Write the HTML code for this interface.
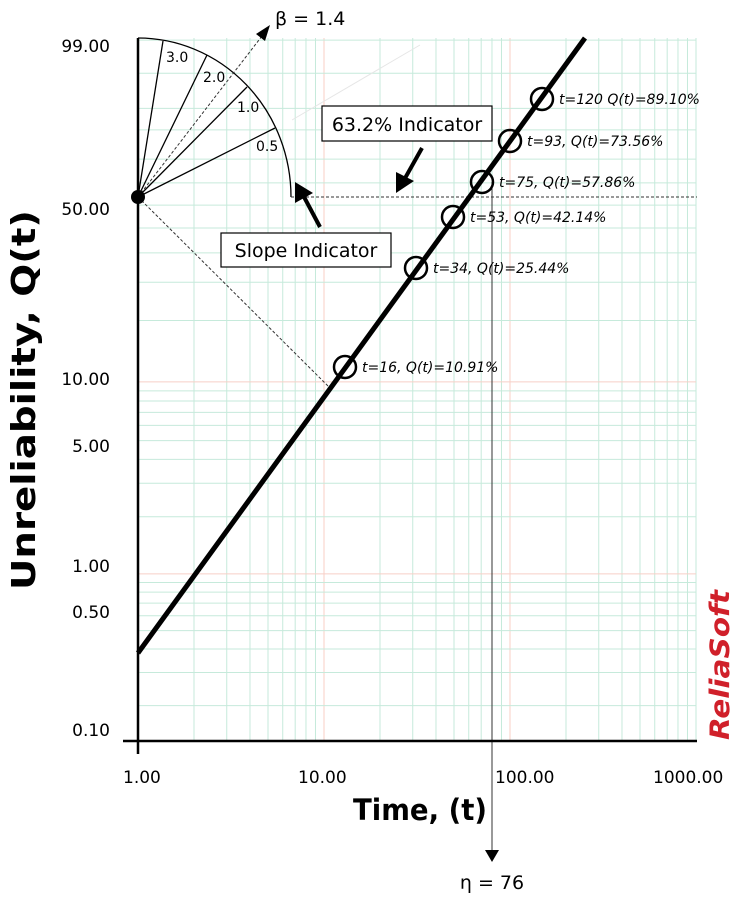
<!DOCTYPE html>
<html><head><meta charset="utf-8"><style>
html,body{margin:0;padding:0;background:#fff;}
svg{display:block;font-family:"DejaVu Sans","Liberation Sans",sans-serif;}
</style></head><body>
<svg id="s" width="735" height="899" viewBox="0 0 735 899" xmlns="http://www.w3.org/2000/svg">
<g id="grid"></g>
<line x1="292" y1="120" x2="420" y2="45" stroke="#e6e6e6" stroke-width="1"/>
<g stroke="#000" stroke-width="1.3" fill="none">
<path d="M138,38 A153,159 0 0 1 291,197"/>
<line x1="138" y1="197" x2="163" y2="41"/>
<line x1="138" y1="197" x2="207" y2="55"/>
<line x1="138" y1="197" x2="247" y2="87"/>
<line x1="138" y1="197" x2="275" y2="128"/>
</g>
<g font-size="14" fill="#000">
<text x="166" y="62">3.0</text>
<text x="203" y="82">2.0</text>
<text x="237" y="112">1.0</text>
<text x="256" y="151">0.5</text>
</g>
<g stroke="#333" stroke-width="1" stroke-dasharray="3,2" fill="none">
<line x1="138" y1="197" x2="262" y2="36"/>
<line x1="138" y1="197" x2="330" y2="388"/>
<line x1="291" y1="197" x2="697" y2="197"/>
</g>
<polygon points="270,25 256,34 265,41" fill="#000"/>
<text x="275" y="25" font-size="19">β = 1.4</text>
<line x1="492" y1="182" x2="492" y2="850" stroke="#333" stroke-width="1"/>
<polygon points="485,850 499,850 492,862" fill="#000"/>
<text x="492" y="889" font-size="19" text-anchor="middle">η = 76</text>
<line x1="138" y1="38" x2="138" y2="754" stroke="#000" stroke-width="2.5"/>
<line x1="123" y1="741" x2="697" y2="741" stroke="#000" stroke-width="2.5"/>
<circle cx="138" cy="197" r="7" fill="#000"/>
<line x1="138" y1="653" x2="585" y2="38" stroke="#000" stroke-width="5"/>
<g stroke="#000" stroke-width="2.5" fill="none">
<circle cx="542" cy="99" r="11"/>
<circle cx="510" cy="141" r="11"/>
<circle cx="482" cy="182" r="11"/>
<circle cx="453" cy="217" r="11"/>
<circle cx="416" cy="268" r="11"/>
<circle cx="345" cy="367" r="11"/>
</g>
<g font-size="14" font-style="italic" fill="#000">
<text x="559" y="104">t=120 Q(t)=89.10%</text>
<text x="527" y="146">t=93, Q(t)=73.56%</text>
<text x="499" y="187">t=75, Q(t)=57.86%</text>
<text x="470" y="222">t=53, Q(t)=42.14%</text>
<text x="433" y="273">t=34, Q(t)=25.44%</text>
<text x="362" y="372">t=16, Q(t)=10.91%</text>
</g>
<rect x="322" y="106" width="170" height="35" fill="#fff" stroke="#000" stroke-width="1.2"/>
<text x="407" y="131" font-size="19" text-anchor="middle">63.2% Indicator</text>
<rect x="221" y="233" width="170" height="34" fill="#fff" stroke="#000" stroke-width="1.2"/>
<text x="306" y="257" font-size="19" text-anchor="middle">Slope Indicator</text>
<line x1="422" y1="148" x2="404" y2="180" stroke="#000" stroke-width="4"/>
<polygon points="396,193 396,172 414,181" fill="#000"/>
<line x1="320" y1="227" x2="303" y2="195" stroke="#000" stroke-width="4"/>
<polygon points="295,182 295,203 313,193" fill="#000"/>
<g font-size="17" fill="#000" text-anchor="end">
<text x="110" y="52">99.00</text>
<text x="110" y="215">50.00</text>
<text x="110" y="385">10.00</text>
<text x="110" y="452">5.00</text>
<text x="110" y="572">1.00</text>
<text x="110" y="618">0.50</text>
<text x="110" y="736">0.10</text>
</g>
<g font-size="17" fill="#000">
<text x="123" y="783">1.00</text>
<text x="298" y="783">10.00</text>
<text x="495" y="783">100.00</text>
<text x="653" y="783">1000.00</text>
</g>
<text x="353" y="820" font-size="29" font-weight="bold" textLength="134" lengthAdjust="spacingAndGlyphs">Time, (t)</text>
<text transform="translate(35,590) rotate(-90)" font-size="33" font-weight="bold" textLength="380" lengthAdjust="spacingAndGlyphs">Unreliability, Q(t)</text>
<text transform="translate(729,740) rotate(-90)" font-size="27" font-weight="bold" font-style="italic" fill="#d0202a" textLength="150" lengthAdjust="spacingAndGlyphs">ReliaSoft</text>
</svg>
<script>
(function(){
var g=document.getElementById('grid'),h='';
function X(t){return 138+186*Math.log10(t);}
function Y(F){return 198-81.7*Math.log(-Math.log(1-F/100));}
for(var d=1;d<1000;d*=10){for(var k=1;k<10;k++){var t=d*k;if(t==1)continue;var x=X(t);
var c=(k==1)?'#f8cfc6':'#c6eadb';h+='<line x1="'+x+'" y1="38" x2="'+x+'" y2="741" stroke="'+c+'" stroke-width="1"/>';}}
h+='<line x1="696" y1="38" x2="696" y2="741" stroke="#c6eadb" stroke-width="1"/>';
var Fs=[0.2,0.3,0.4,0.5,0.6,0.7,0.8,0.9,1,2,3,4,5,6,7,8,9,10,20,30,40,50,60,70,80,90,95,99,99.9];
Fs.forEach(function(F){var y=Y(F);if(y<38||y>741)return;var c=(F==1||F==10)?'#f8cfc6':'#c6eadb';
h+='<line x1="138" y1="'+y+'" x2="696" y2="'+y+'" stroke="'+c+'" stroke-width="1"/>';});
g.innerHTML=h;
})();
</script>
</body></html>
